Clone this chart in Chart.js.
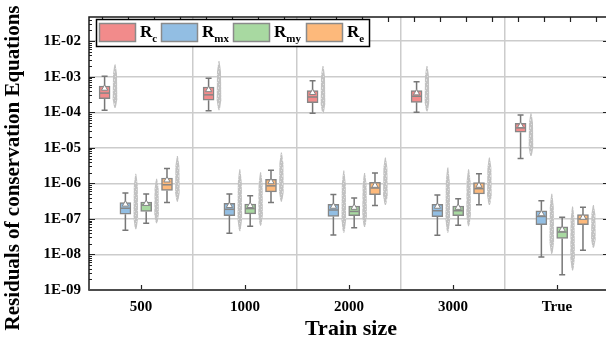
<!DOCTYPE html>
<html><head><meta charset="utf-8">
<script src="https://cdn.jsdelivr.net/npm/chart.js@4"></script>
<style>html,body{margin:0;padding:0;background:#fff}#wrap{width:611px;height:343px}</style>
</head><body><div id="wrap"><canvas id="c" width="611" height="343"></canvas></div>
<script>
// ---------------- data ----------------
const categories = ['500', '1000', '2000', '3000', 'True'];
const yTickExp = [-9, -8, -7, -6, -5, -4, -3, -2];
const yTickLabels = ['1E-09', '1E-08', '1E-07', '1E-06', '1E-05', '1E-04', '1E-03', '1E-02'];
const seriesSubs = ['c', 'mx', 'my', 'e'];
const seriesColors = ['#F28B8B', '#92BEE3', '#A8D9A1', '#FDB97B'];
// rows per category, values as log10:
// [min, q1, median, q3, max, mean, cloudLow, cloudHigh]
const Rc = [
  [-3.94, -3.62, -3.46, -3.26, -2.99, -3.33, -3.88, -2.65],
  [-3.96, -3.66, -3.51, -3.29, -3.04, -3.37, -3.94, -2.56],
  [-4.03, -3.73, -3.57, -3.39, -3.11, -3.45, -4.03, -2.70],
  [-4.00, -3.72, -3.55, -3.39, -3.14, -3.46, -3.98, -2.70],
  [-5.30, -4.56, -4.44, -4.31, -4.08, -4.38, -5.23, -4.03]
];
const Rmx = [
  [-7.32, -6.87, -6.70, -6.54, -6.27, -6.59, -7.29, -5.73],
  [-7.40, -6.91, -6.73, -6.56, -6.30, -6.63, -7.35, -5.60],
  [-7.45, -6.93, -6.75, -6.59, -6.31, -6.65, -7.39, -5.64],
  [-7.46, -6.94, -6.77, -6.59, -6.33, -6.65, -7.39, -5.55],
  [-8.07, -7.16, -6.93, -6.77, -6.49, -6.86, -7.99, -6.29]
];
const Rmy = [
  [-7.12, -6.79, -6.61, -6.53, -6.30, -6.57, -7.12, -5.87],
  [-7.21, -6.86, -6.71, -6.58, -6.35, -6.63, -7.19, -5.69],
  [-7.25, -6.91, -6.79, -6.64, -6.41, -6.68, -7.23, -5.71],
  [-7.18, -6.91, -6.77, -6.64, -6.43, -6.68, -7.21, -5.60],
  [-8.57, -7.55, -7.37, -7.22, -6.95, -7.30, -8.45, -6.65]
];
const Re = [
  [-6.54, -6.20, -6.04, -5.85, -5.58, -5.91, -6.52, -5.23],
  [-6.54, -6.24, -6.07, -5.89, -5.63, -5.96, -6.52, -5.13],
  [-6.62, -6.32, -6.13, -5.97, -5.71, -6.06, -6.61, -5.27],
  [-6.60, -6.30, -6.15, -5.98, -5.73, -6.06, -6.61, -5.27],
  [-7.88, -7.16, -7.00, -6.88, -6.67, -6.96, -7.81, -6.61]
];
const allSeries = [Rc, Rmx, Rmy, Re];

// ---------------- layout constants ----------------
const boxOffset = [-0.35, -0.15, 0.05, 0.25];
const cloudOffset = [-0.25, -0.05, 0.15, 0.35];
const E = v => Math.pow(10, v);
const SERIF = "'Liberation Serif', 'Times New Roman', serif";

const datasets = [];
allSeries.forEach((s, k) => {
  datasets.push({
    type: 'bar', label: 'R' + seriesSubs[k],
    data: s.map((r, i) => ({x: i + boxOffset[k], y: [E(r[1]), E(r[3])]})),
    backgroundColor: seriesColors[k], borderColor: '#868686', borderWidth: 1.5,
    borderSkipped: false, barThickness: 11, grouped: false, order: 1,
    stats: s
  });
});
allSeries.forEach((s, k) => {
  datasets.push({
    type: 'scatter', label: 'mean' + k,
    data: s.map((r, i) => ({x: i + boxOffset[k], y: E(r[5])})),
    pointStyle: 'triangle', pointRadius: 3.6, backgroundColor: '#ffffff',
    borderColor: '#868686', borderWidth: 1, order: 0
  });
});

function makePattern(ctx) {
  // fixed speckle texture for the point clouds
  const rows = [
    '00100000', '00000100', '01000000', '00000010',
    '00010000', '10000000', '00000100', '00100001'
  ];
  const c = document.createElement('canvas'); c.width = 8; c.height = 8;
  const g = c.getContext('2d');
  g.fillStyle = '#c2c2c2'; g.fillRect(0, 0, 8, 8);
  g.fillStyle = '#dedede';
  rows.forEach((row, yy) => { for (let xx = 0; xx < 8; xx++) if (row[xx] === '1') g.fillRect(xx, yy, 1, 1); });
  return ctx.createPattern(c, 'repeat');
}

const drawPlugin = {
  id: 'boxExtras',
  beforeDatasetsDraw(chart) {
    const {ctx, chartArea, scales: {x, y}} = chart;
    ctx.save();
    ctx.beginPath(); ctx.rect(chartArea.left, chartArea.top, chartArea.right - chartArea.left, chartArea.bottom - chartArea.top); ctx.clip();
    const pat = makePattern(ctx);
    // clouds
    const prof = [[0, 0.5], [0.08, 1.1], [0.22, 2.0], [0.8, 2.3], [0.95, 1.2], [1, 0.5]];
    allSeries.forEach((s, k) => s.forEach((r, i) => {
      const cx = x.getPixelForValue(i + cloudOffset[k]);
      const yt = y.getPixelForValue(E(r[7])), yb = y.getPixelForValue(E(r[6]));
      ctx.beginPath();
      prof.forEach((p, j) => { const yy = yt + (yb - yt) * p[0]; j ? ctx.lineTo(cx + p[1], yy) : ctx.moveTo(cx + p[1], yy); });
      for (let j = prof.length - 1; j >= 0; j--) { const p = prof[j]; ctx.lineTo(cx - p[1], yt + (yb - yt) * p[0]); }
      ctx.closePath();
      ctx.fillStyle = pat; ctx.fill();
    }));
    // whiskers
    ctx.strokeStyle = '#777777'; ctx.lineWidth = 1.5;
    allSeries.forEach((s, k) => s.forEach((r, i) => {
      const px = x.getPixelForValue(i + boxOffset[k]);
      const yMin = y.getPixelForValue(E(r[0])), yQ1 = y.getPixelForValue(E(r[1]));
      const yQ3 = y.getPixelForValue(E(r[3])), yMax = y.getPixelForValue(E(r[4]));
      ctx.beginPath();
      ctx.moveTo(px, yMax); ctx.lineTo(px, yQ3);
      ctx.moveTo(px, yQ1); ctx.lineTo(px, yMin);
      ctx.moveTo(px - 3, yMax); ctx.lineTo(px + 3, yMax);
      ctx.moveTo(px - 3, yMin); ctx.lineTo(px + 3, yMin);
      ctx.stroke();
    }));
    ctx.restore();
  },
  afterDatasetDraw(chart, args) {
    const meta = args.meta;
    if (meta.type !== 'bar') return;
    const ds = chart.data.datasets[args.index];
    const {ctx, scales: {y}} = chart;
    ctx.save();
    ctx.strokeStyle = '#868686'; ctx.lineWidth = 1.5;
    meta.data.forEach((el, i) => {
      const ym = y.getPixelForValue(E(ds.stats[i][2]));
      ctx.beginPath(); ctx.moveTo(el.x - el.width / 2 + 1, ym); ctx.lineTo(el.x + el.width / 2 - 1, ym); ctx.stroke();
    });
    ctx.restore();
  },
  afterDraw(chart) {
    const {ctx, chartArea: ca, scales: {x, y}} = chart;
    ctx.save();
    // minor / major ticks on the left and right
    ctx.strokeStyle = '#222'; ctx.lineWidth = 1;
    const yMaxExp = Math.log10(y.max);
    for (let d = -9; d <= -1; d++) {
      for (let m = 1; m <= 9; m++) {
        const lv = d + Math.log10(m);
        if (lv > yMaxExp + 1e-9) continue;
        const py = Math.round(y.getPixelForValue(E(lv))) + 0.5;
        const len = m === 1 ? 6 : 3;
        ctx.beginPath(); ctx.moveTo(ca.left, py); ctx.lineTo(ca.left + len, py); ctx.stroke();
        if (m === 1) { ctx.beginPath(); ctx.moveTo(ca.right - 3, py); ctx.lineTo(ca.right, py); ctx.stroke(); }
      }
    }
    // bottom ticks at categories
    ctx.lineWidth = 1.2;
    categories.forEach((c, i) => {
      const px = Math.round(x.getPixelForValue(i)) + 0.5;
      ctx.beginPath(); ctx.moveTo(px, ca.bottom); ctx.lineTo(px, ca.bottom - 5); ctx.stroke();
    });
    // top ticks
    for (let v = -0.375; v < x.max; v += 0.25) {
      const px = Math.round(x.getPixelForValue(v)) + 0.5;
      ctx.beginPath(); ctx.moveTo(px, ca.top); ctx.lineTo(px, ca.top + 5); ctx.stroke();
    }
    // frame
    ctx.strokeStyle = '#1a1a1a'; ctx.lineWidth = 1.5;
    ctx.beginPath(); ctx.moveTo(ca.left, ca.bottom); ctx.lineTo(ca.left, ca.top); ctx.lineTo(ca.right, ca.top); ctx.stroke();
    ctx.strokeStyle = '#4d4d4d'; ctx.lineWidth = 2;
    ctx.beginPath(); ctx.moveTo(ca.left - 0.75, ca.bottom); ctx.lineTo(ca.right, ca.bottom); ctx.stroke();

    // legend
    ctx.fillStyle = '#fff'; ctx.fillRect(96.5, 19.5, 273, 27);
    ctx.strokeStyle = '#000'; ctx.lineWidth = 1.5; ctx.strokeRect(96.5, 19.5, 273, 27);
    const sw = [99, 161, 233, 306];
    seriesSubs.forEach((sub, k) => {
      ctx.fillStyle = seriesColors[k]; ctx.fillRect(sw[k] + 0.5, 23.5, 36, 18);
      ctx.strokeStyle = '#8a8a8a'; ctx.lineWidth = 1.5; ctx.strokeRect(sw[k] + 0.5, 23.5, 36, 18);
      ctx.fillStyle = '#000'; ctx.textAlign = 'left'; ctx.textBaseline = 'alphabetic';
      ctx.font = 'bold 17px ' + SERIF;
      const tx = sw[k] + 41;
      ctx.fillText('R', tx, 37);
      const rw = ctx.measureText('R').width;
      ctx.font = 'bold 11px ' + SERIF;
      ctx.fillText(sub, tx + rw, 41.5);
    });

    // axis titles
    ctx.fillStyle = '#000';
    ctx.font = 'bold 22px ' + SERIF; ctx.textAlign = 'center'; ctx.textBaseline = 'middle';
    ctx.fillText('Train size', 351, 329);
    ctx.translate(14, 168); ctx.rotate(-Math.PI / 2);
    ctx.font = 'bold 21px ' + SERIF;
    ctx.fillText('Residuals of conservation Equations', 0, 0);
    ctx.restore();
  }
};

new Chart(document.getElementById('c'), {
  type: 'bar',
  data: {datasets},
  options: {
    responsive: false, animation: false, events: [], devicePixelRatio: 1,
    layout: {padding: {top: 12, right: 0, bottom: 0, left: 0}},
    plugins: {legend: {display: false}, tooltip: {enabled: false}},
    scales: {
      x: {
        type: 'linear', offset: false, min: -0.5, max: 4.5 - 3 / 105,
        afterBuildTicks: s => { s.ticks = [0, 0.5, 1, 1.5, 2, 2.5, 3, 3.5, 4].map(v => ({value: v})); },
        afterFit: s => { s.height = 53; },
        grid: {drawTicks: false, offset: false, lineWidth: 1.5, color: c => (c.tick && c.tick.value % 1 !== 0) ? '#cccccc' : 'rgba(0,0,0,0)'},
        border: {display: false},
        ticks: {autoSkip: false, maxRotation: 0, padding: 8, color: '#000',
          font: {family: SERIF, weight: 'bold', size: 15},
          callback: v => Number.isInteger(v) ? categories[v] : ''}
      },
      y: {
        type: 'logarithmic', min: E(-9), max: E(-1.32),
        afterBuildTicks: s => { s.ticks = yTickExp.map(e => ({value: E(e)})); },
        afterFit: s => { s.width = 89; },
        grid: {drawTicks: false, lineWidth: 1.5, color: '#cccccc'},
        border: {display: false},
        ticks: {padding: 8, color: '#000', font: {family: SERIF, weight: 'bold', size: 15},
          callback: (v, i) => yTickLabels[i]}
      }
    }
  },
  plugins: [drawPlugin]
});
</script></body></html>
